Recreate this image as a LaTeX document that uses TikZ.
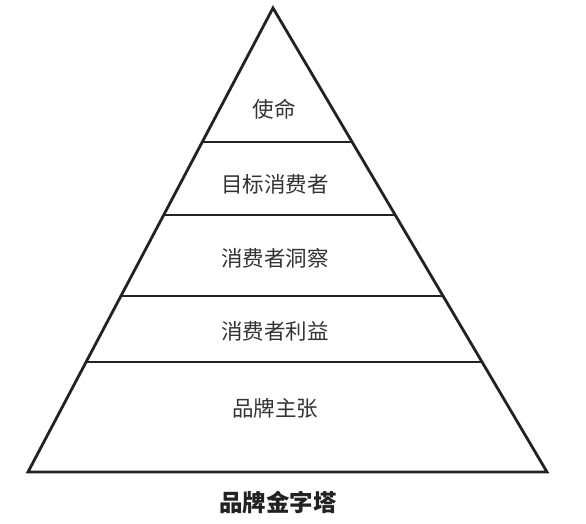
\documentclass[tikz,border=0pt]{standalone}
\usepackage{fontspec}
\newfontfamily\cjk{Noto Sans CJK SC}
\usetikzlibrary{calc}
\definecolor{ink}{HTML}{222222}
\definecolor{txt}{HTML}{333333}
\tikzset{
  edge/.style={draw=ink, line width=2.8pt},
  tier/.style={font=\cjk\fontsize{21.5}{21.5}\selectfont, text=txt, inner sep=0pt},
  caption/.style={font=\cjk\bfseries\fontsize{23.5}{23.5}\selectfont, text=ink, inner sep=0pt}
}
\begin{document}
\begin{tikzpicture}[x=1pt,y=-1pt]
\useasboundingbox (0,0) rectangle (586,524);
\coordinate (apex) at (273,8);
\coordinate (bl) at (28,472);
\coordinate (br) at (547,472);
\draw[edge, line join=miter] (bl) -- (apex) -- (br) -- cycle;
% horizontal dividers
\foreach \name/\y in {a/142,b/215,c/296,d/362}{
  \coordinate (\name L) at ($(bl)!{(472-\y)/464}!(apex)$);
  \coordinate (\name R) at ($(br)!{(472-\y)/464}!(apex)$);
  \draw[edge] (\name L) -- (\name R);
}
\node[tier] (t1) at (274,109) {使命};
\node[tier] (t2) at (275,184) {目标消费者};
\node[tier] (t3) at (275,258) {消费者洞察};
\node[tier] (t4) at (275,331) {消费者利益};
\node[tier] (t5) at (275,408) {品牌主张};
\node[caption] (title) at (278,502) {品牌金字塔};
\end{tikzpicture}
\end{document}
